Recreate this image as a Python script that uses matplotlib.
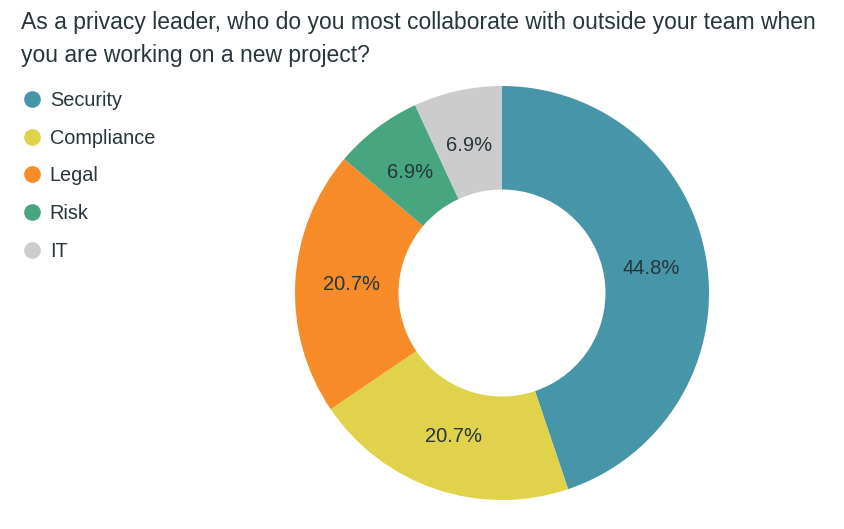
import matplotlib.pyplot as plt
from matplotlib.lines import Line2D

# Survey data
labels = ['Security', 'Compliance', 'Legal', 'Risk', 'IT']
counts = [13, 6, 6, 2, 2]
colors = ['#4795a8', '#e0d24a', '#f68b28', '#47a680', '#cccccc']
title = ('As a privacy leader, who do you most collaborate with outside your team when\n'
         'you are working on a new project?')

plt.rcParams['font.family'] = ['Liberation Sans', 'DejaVu Sans']
text_color = '#26363b'

W, H = 845, 529
fig = plt.figure(figsize=(W / 100, H / 100), dpi=100)

# Donut placed in pixel units
cx, cy, R = 502, 293, 207
ax = fig.add_axes([(cx - R) / W, (H - cy - R) / H, 2 * R / W, 2 * R / H])
wedges, texts, autotexts = ax.pie(counts, colors=colors, startangle=90, counterclock=False,
                                  radius=1.0, autopct='%1.1f%%', pctdistance=0.73,
                                  wedgeprops=dict(width=0.5, edgecolor='none'),
                                  textprops=dict(fontsize=14.5, color=text_color))
ax.set_xlim(-1, 1)
ax.set_ylim(-1, 1)
ax.set_aspect('equal')
ax.axis('off')

fig.text(21 / W, 1 - 11 / H, title, ha='left', va='top', fontsize=16.5,
         color=text_color, linespacing=1.53)

handles = [Line2D([], [], marker='o', linestyle='none', markersize=12,
                  markerfacecolor=c, markeredgecolor='none') for c in colors]
fig.legend(handles, labels, loc='upper left', bbox_to_anchor=(12 / W, 1 - 83 / H),
           frameon=False, fontsize=14.3, labelcolor=text_color, handletextpad=0.3,
           labelspacing=0.94, handlelength=1.2, borderaxespad=0)

fig.savefig('out.png', dpi=100, facecolor='white')
